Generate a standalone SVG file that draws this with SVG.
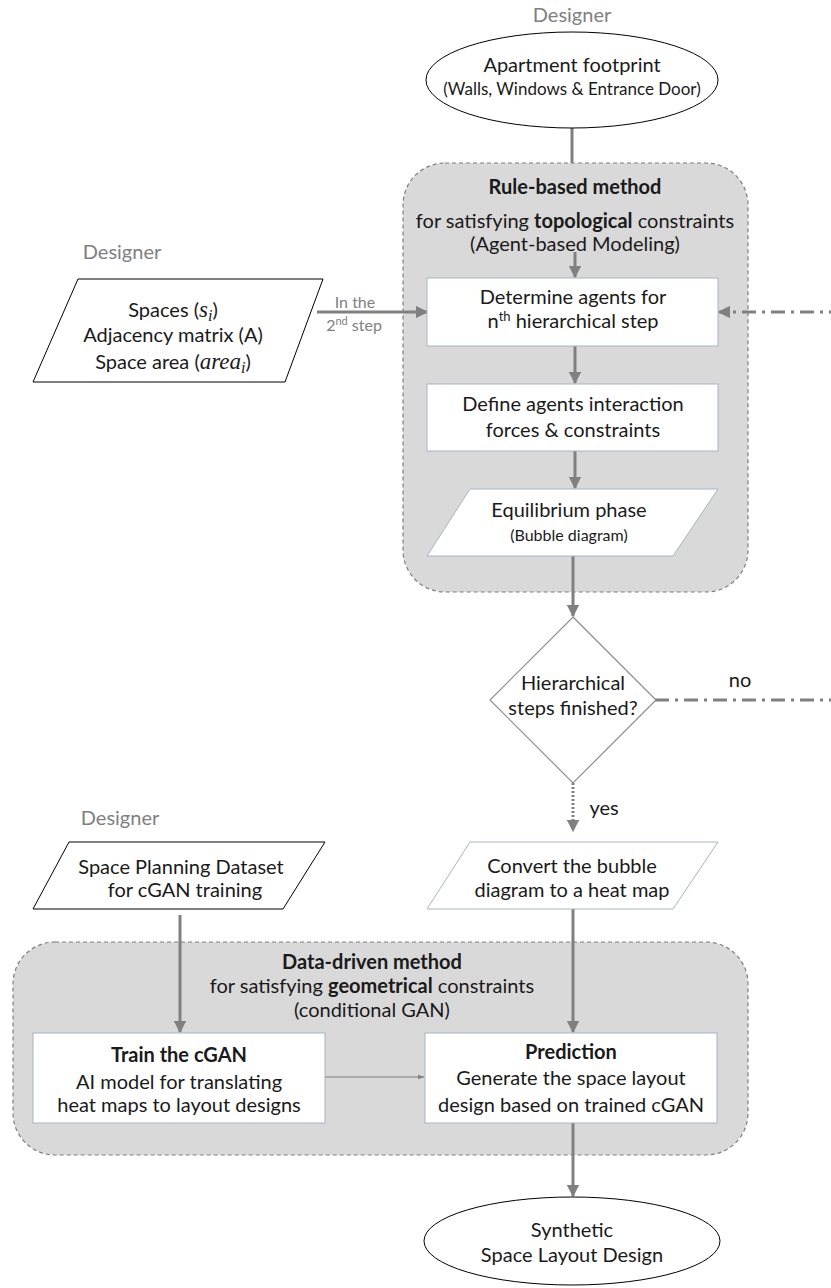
<svg xmlns="http://www.w3.org/2000/svg" width="831" height="1288" viewBox="0 0 831 1288">
<defs>
<style>
text{font-family:Lato,"Open Sans","Liberation Sans",sans-serif;fill:#1a1a1a;text-anchor:middle}
.lbl{fill:#808080}
.t20{font-size:20px}
.t17{font-size:17px}
.t16{font-size:16px}
.b{font-weight:bold}
.m{font-family:"Liberation Serif",serif;font-style:italic}
.cont{fill:#d9d9d9;stroke:#808080;stroke-width:1.2;stroke-dasharray:4 3}
.box{fill:#fff;stroke:#a5b4c8;stroke-width:1}
.blk{fill:#fff;stroke:#000;stroke-width:1}
.dia{fill:#fff;stroke:#8c8c8c;stroke-width:1.2}
.ar{stroke:#808080;stroke-width:3;fill:none}
.thin{stroke:#808080;stroke-width:1.2;fill:none}
.dot{stroke-dasharray:2 2}
.dd{stroke-dasharray:14 6 3 6}
</style>
<marker id="ah" viewBox="0 0 10 10" refX="9" refY="5" markerWidth="4.2" markerHeight="4.2" orient="auto" markerUnits="strokeWidth">
<path d="M0,0L10,5L0,10z" fill="#808080"/>
</marker>
<marker id="ahs" viewBox="0 0 10 10" refX="9" refY="5" markerWidth="5.5" markerHeight="5.5" orient="auto" markerUnits="strokeWidth">
<path d="M0,1.5L10,5L0,8.5z" fill="#808080"/>
</marker>
</defs>

<g id="containers">
<rect id="rule-based" class="cont" x="403" y="163" width="345" height="429" rx="42"/>
<rect id="data-driven" class="cont" x="13" y="942" width="735" height="213" rx="42"/>
</g>

<g id="connectors">
<line class="ar" x1="572" y1="128" x2="572" y2="163"/>
<line class="ar" x1="575" y1="252" x2="575" y2="277" marker-end="url(#ah)"/>
<line class="ar" x1="575" y1="346" x2="575" y2="383" marker-end="url(#ah)"/>
<line class="ar" x1="575" y1="451" x2="575" y2="488" marker-end="url(#ah)"/>
<line class="ar" x1="573" y1="556" x2="573" y2="616" marker-end="url(#ah)"/>
<line class="ar dot" x1="573" y1="783" x2="573" y2="831" marker-end="url(#ah)"/>
<line class="ar" x1="573" y1="909" x2="573" y2="1032" marker-end="url(#ah)"/>
<line class="ar" x1="180" y1="915" x2="180" y2="1032" marker-end="url(#ah)"/>
<line class="thin" x1="325" y1="1077" x2="424" y2="1077" marker-end="url(#ahs)"/>
<line class="ar" x1="573" y1="1123" x2="573" y2="1196" marker-end="url(#ah)"/>
<line class="ar" x1="317" y1="312" x2="427" y2="312" marker-end="url(#ah)"/>
<path class="ar dd" d="M655,700H845V312H719" marker-end="url(#ah)"/>
<text class="lbl t16" x="355" y="308">In the</text>
<text class="lbl t16" x="354" y="331">2<tspan font-size="11" dy="-6">nd</tspan><tspan dy="6"> step</tspan></text>
<text class="t20" x="740" y="687">no</text>
<text class="t20" x="604" y="815">yes</text>
</g>

<g id="designer-top">
<text class="lbl t20" x="572" y="22">Designer</text>
</g>
<g id="footprint">
<ellipse class="blk" cx="572" cy="80" rx="146" ry="48"/>
<text class="t20" x="572" y="72">Apartment footprint</text>
<text class="t17" x="572" y="95">(Walls, Windows &amp; Entrance Door)</text>
</g>

<g id="rule-title">
<text class="t20 b" x="575" y="194">Rule-based method</text>
<text class="t20" x="575" y="228">for satisfying <tspan class="b">topological</tspan> constraints</text>
<text class="t20" x="575" y="251">(Agent-based Modeling)</text>
</g>

<g id="designer-left">
<text class="lbl t20" x="122" y="259">Designer</text>
</g>
<g id="inputs">
<polygon class="blk" points="78,279 323,279 285,382 33,382"/>
<text class="t20" x="173" y="317">Spaces (<tspan class="m" font-size="23">s</tspan><tspan class="m" font-size="16" dy="4">i</tspan><tspan dy="-4">)</tspan></text>
<text class="t20" x="173" y="342">Adjacency matrix (A)</text>
<text class="t20" x="173" y="369">Space area (<tspan class="m" font-size="23">area</tspan><tspan class="m" font-size="16" dy="4">i</tspan><tspan dy="-4">)</tspan></text>
</g>

<g id="determine">
<rect class="box" x="427" y="278" width="291" height="68"/>
<text class="t20" x="573" y="304">Determine agents for</text>
<text class="t20" x="573" y="328">n<tspan font-size="13" dy="-7">th</tspan><tspan dy="7"> hierarchical step</tspan></text>
</g>

<g id="define">
<rect class="box" x="427" y="384" width="291" height="67"/>
<text class="t20" x="573" y="411">Define agents interaction</text>
<text class="t20" x="573" y="437">forces &amp; constraints</text>
</g>

<g id="equilibrium">
<polygon class="box" points="470,489 718,489 673,556 427,556"/>
<text class="t20" x="569" y="517">Equilibrium phase</text>
<text class="t16" x="569" y="541">(Bubble diagram)</text>
</g>

<g id="decision">
<polygon class="dia" points="573,617 656,700 573,783 490,700"/>
<text class="t20" x="573" y="690">Hierarchical</text>
<text class="t20" x="573" y="715">steps finished?</text>
</g>

<g id="designer-bottom">
<text class="lbl t20" x="120" y="825">Designer</text>
</g>
<g id="dataset">
<polygon class="blk" points="69,842 325,842 283,909 33,909"/>
<text class="t20" x="181" y="874">Space Planning Dataset</text>
<text class="t20" x="185" y="897">for cGAN training</text>
</g>

<g id="convert">
<polygon class="box" points="470,842 718,842 673,909 427,909"/>
<text class="t20" x="572" y="873">Convert the bubble</text>
<text class="t20" x="572" y="897">diagram to a heat map</text>
</g>

<g id="data-title">
<text class="t20 b" x="372" y="969">Data-driven method</text>
<text class="t20" x="372" y="993">for satisfying <tspan class="b">geometrical</tspan> constraints</text>
<text class="t20" x="372" y="1017">(conditional GAN)</text>
</g>

<g id="train">
<rect class="box" x="33" y="1033" width="292" height="90"/>
<text class="t20 b" x="179" y="1062">Train the cGAN</text>
<text class="t20" x="179" y="1089">AI model for translating</text>
<text class="t20" x="179" y="1112">heat maps to layout designs</text>
</g>

<g id="prediction">
<rect class="box" x="425" y="1033" width="292" height="90"/>
<text class="t20 b" x="571" y="1059">Prediction</text>
<text class="t20" x="571" y="1085">Generate the space layout</text>
<text class="t20" x="571" y="1112">design based on trained cGAN</text>
</g>

<g id="output">
<ellipse class="blk" cx="572" cy="1241" rx="148" ry="44"/>
<text class="t20" x="572" y="1237">Synthetic</text>
<text class="t20" x="572" y="1262">Space Layout Design</text>
</g>
</svg>
